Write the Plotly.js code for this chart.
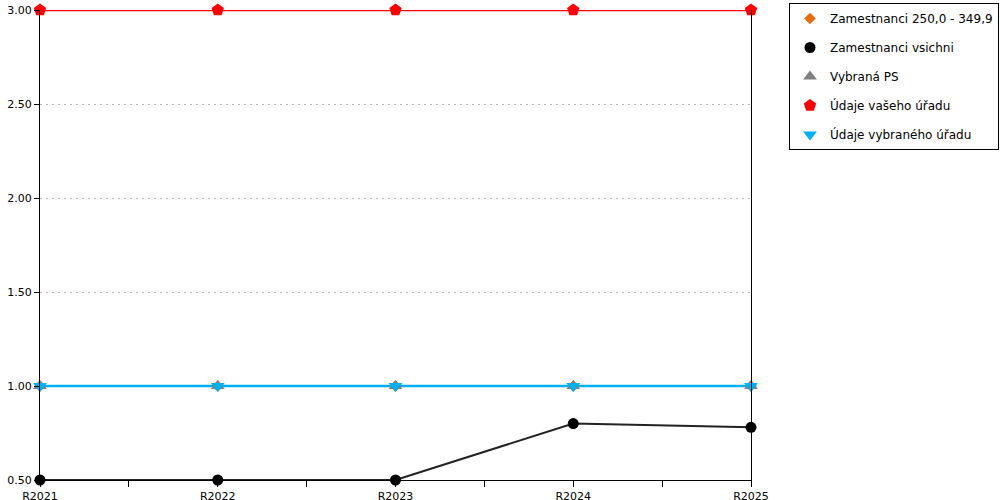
<!DOCTYPE html>
<html>
<head>
<meta charset="utf-8">
<script src="https://cdn.plot.ly/plotly-3.0.1.min.js"></script>
<style>html,body{margin:0;padding:0;background:#fff}#chart{width:1000px;height:500px}</style>
</head>
<body>
<div id="chart"></div>
<script>
var categories = ['R2021', 'R2022', 'R2023', 'R2024', 'R2025'];
var seriesNames = ['Zamestnanci 250,0 - 349,9', 'Zamestnanci vsichni', 'Vybraná PS', 'Údaje vašeho úřadu', 'Údaje vybraného úřadu'];
var zam250 = [1, 1, 1, 1, 1];
var zamVsichni = [0.5, 0.5, 0.5, 0.8, 0.78];
var vybranaPS = [1, 1, 1, 1, 1];
var vasUrad = [3, 3, 3, 3, 3];
var vybranyUrad = [1, 1, 1, 1, 1];
var yTicks = [0.5, 1.0, 1.5, 2.0, 2.5, 3.0];

var xIdx = categories.map(function (c, i) { return i; });
var xTickVals = [], xTickText = [];
categories.forEach(function (c, i) {
  xTickVals.push(i); xTickText.push(c);
  if (i < categories.length - 1) { xTickVals.push(i + 0.5); xTickText.push(''); }
});

var styles = [
  { data: zam250, color: '#e46c0a', symbol: 'diamond', size: 9, lw: 2 },
  { data: zamVsichni, color: '#000000', lineColor: '#222222', symbol: 'circle', size: 11, lw: 2 },
  { data: vybranaPS, color: '#808080', symbol: 'triangle-up', size: 12, lw: 2 },
  { data: vasUrad, color: '#ff0000', symbol: 'pentagon', size: 13, lw: 2.5 },
  { data: vybranyUrad, color: '#00b0f0', symbol: 'triangle-down', size: 12, lw: 2.5 }
];

var traces = [];
styles.forEach(function (s, k) {
  traces.push({
    x: xIdx, y: s.data, type: 'scatter', mode: 'lines',
    line: { color: s.lineColor || s.color, width: s.lw },
    showlegend: false, hoverinfo: 'skip', cliponaxis: false
  });
});
styles.forEach(function (s, k) {
  traces.push({
    x: xIdx, y: s.data, type: 'scatter', mode: 'markers', name: seriesNames[k],
    legendgroup: 'g' + k,
    marker: { color: s.color, symbol: s.symbol, size: s.size },
    cliponaxis: false
  });
});

var layout = {
  width: 1000, height: 500,
  margin: { l: 40, r: 249, t: 10, b: 20, autoexpand: false },
  paper_bgcolor: '#ffffff', plot_bgcolor: '#ffffff',
  font: { family: 'DejaVu Sans, Verdana, sans-serif', size: 11, color: '#000000' },
  xaxis: {
    range: [0, categories.length - 1],
    tickvals: xTickVals, ticktext: xTickText,
    ticks: 'outside', ticklen: 6, tickcolor: '#000', tickwidth: 1,
    showline: true, linecolor: '#000', linewidth: 1,
    showgrid: false, zeroline: false, fixedrange: true, automargin: false
  },
  yaxis: {
    range: [0.5, 3.0], tickvals: yTicks, tickformat: '.2f',
    ticks: 'outside', ticklen: 5, tickcolor: '#000',
    showline: true, mirror: true, linecolor: '#000', linewidth: 1,
    showgrid: true, gridcolor: '#b8b8b8', griddash: '2px,4px', gridwidth: 1,
    zeroline: false, fixedrange: true, automargin: false
  },
  legend: {
    x: (789 - 40) / 711, xanchor: 'left', y: 1 + 7 / 470, yanchor: 'top',
    bordercolor: '#000', borderwidth: 1, bgcolor: '#fff',
    font: { size: 12, family: 'DejaVu Sans, Verdana, sans-serif' },
    traceorder: 'grouped', tracegroupgap: 10
  },
  showlegend: true
};

Plotly.newPlot('chart', traces, layout, { displayModeBar: false, staticPlot: true });
</script>
</body>
</html>
